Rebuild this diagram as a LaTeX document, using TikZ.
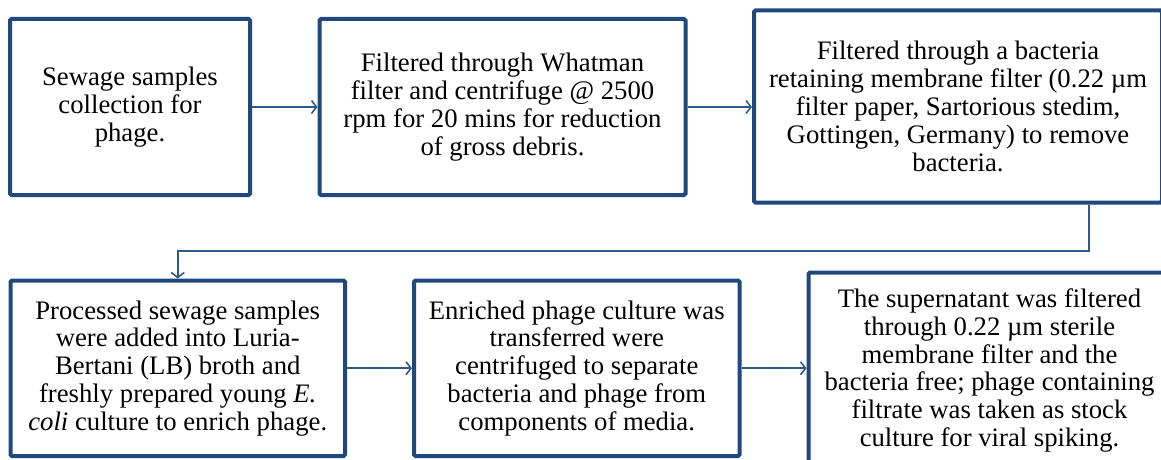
\documentclass[tikz,border=0pt]{standalone}
\usepackage{fontspec}
\setmainfont{Liberation Serif}
\usetikzlibrary{arrows.meta,positioning,calc}
\definecolor{navy}{HTML}{1F497D}
\definecolor{linkblue}{HTML}{2E5A8C}
\tikzset{
  stepbox/.style={draw=navy,line width=4pt,rounded corners=1.5pt,fill=white,inner sep=0pt,align=center,text=black,font=\fontsize{26.7}{27.8}\selectfont},
  arr/.style={-{Straight Barb[length=5pt,width=13pt]},draw=linkblue,line width=1.6pt}
}
\begin{document}
\begin{tikzpicture}[x=1pt,y=-1pt]
\path[use as bounding box] (0,0) rectangle (1161,460);
\clip (0,0) rectangle (1161,460);
\node[stepbox,minimum width=240pt,minimum height=176pt] (collect) at (130,107) {Sewage samples\\collection for\\phage.};
\node[stepbox,minimum width=366pt,minimum height=176pt] (whatman) at (502.5,107) {Filtered through Whatman\\filter and centrifuge @ 2500\\rpm for 20 mins for reduction\\of gross debris.};
\node[stepbox,minimum width=408pt,minimum height=192pt] (membrane) at (958,106.5) {Filtered through a bacteria\\retaining membrane filter (0.22 µm\\filter paper, Sartorious stedim,\\Gottingen, Germany) to remove\\bacteria.};
\node[stepbox,minimum width=334.5pt,minimum height=175.5pt] (broth) at (177.75,368.25) {Processed sewage samples\\were added into Luria-\\Bertani (LB) broth and\\freshly prepared young \textit{E.}\\\textit{coli} culture to enrich phage.};
\node[stepbox,minimum width=325.5pt,minimum height=175.5pt] (enrich) at (576.75,368.25) {Enriched phage culture was\\transferred were\\centrifuged to separate\\bacteria and phage from\\components of media.};
\node[stepbox,minimum width=362pt,minimum height=196pt] (stock) at (989.5,370.5) {The supernatant was filtered\\through 0.22 µm sterile\\membrane filter and the\\bacteria free; phage containing\\filtrate was taken as stock\\culture for viral spiking.};
\coordinate (bend) at (1089,251);
% connectors
\draw[arr] (collect.east) -- (collect.east -| whatman.west);
\draw[arr] (whatman.east) -- (whatman.east -| membrane.west);
\draw[arr] (membrane.south -| bend) -- (bend) -| (broth.north);
\draw[arr] (broth.east) -- (broth.east -| enrich.west);
\draw[arr] (enrich.east) -- (enrich.east -| stock.west);
\end{tikzpicture}
\end{document}
